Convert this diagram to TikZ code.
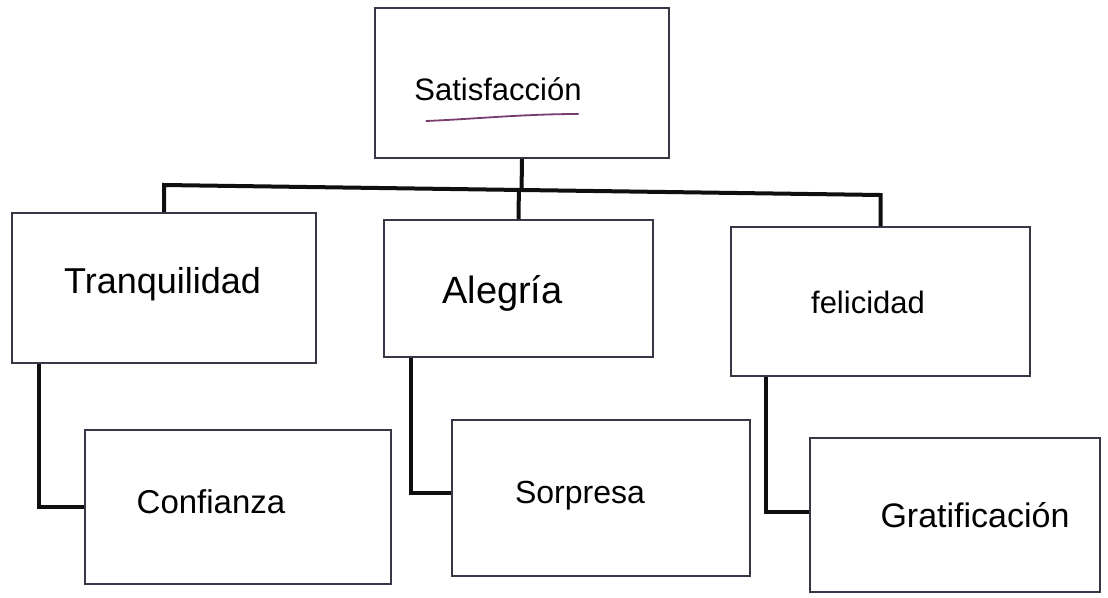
\documentclass[tikz,border=0pt]{standalone}
\usepackage{fontspec}
\setmainfont{Liberation Sans}
\usetikzlibrary{calc}
\definecolor{boxc}{RGB}{55,55,72}
\definecolor{linec}{RGB}{15,15,18}
\definecolor{underc}{RGB}{120,60,110}
\begin{document}
\begin{tikzpicture}[x=1pt,y=-1pt,
  box/.style={draw=boxc, line width=1.6pt, inner sep=0pt, fill=white},
  conn/.style={draw=linec, line width=4pt},
  lbl/.style={anchor=base, inner sep=0pt, text=black},
  underl/.style={draw=underc, line width=1.8pt, line cap=round}]
\fill[white] (0,0) rectangle (1108,597);
\useasboundingbox (0,0) rectangle (1108,597);

% boxes
\node[box, minimum width=294pt, minimum height=150pt] (sat) at (522,83) {};
\node[box, minimum width=304pt, minimum height=150pt] (tra) at (164,288) {};
\node[box, minimum width=269pt, minimum height=137pt] (ale) at (518.5,288.5) {};
\node[box, minimum width=299pt, minimum height=149pt] (fel) at (880.5,301.5) {};
\node[box, minimum width=306pt, minimum height=154pt] (con) at (238,507) {};
\node[box, minimum width=298pt, minimum height=156pt] (sor) at (601,498) {};
\node[box, minimum width=290pt, minimum height=154pt] (gra) at (955,515) {};

% labels
\node[lbl, font=\fontsize{31}{36}\selectfont] (tSat) at (498,100) {Satisfacción};
\node[lbl, font=\fontsize{36}{40}\selectfont] (tTra) at (162.5,293) {Tranquilidad};
\node[lbl, font=\fontsize{38}{42}\selectfont] (tAle) at (502.5,303) {Alegría};
\node[lbl, font=\fontsize{31}{36}\selectfont] (tFel) at (868,313) {felicidad};
\node[lbl, font=\fontsize{33}{38}\selectfont] (tCon) at (211,513) {Confianza};
\node[lbl, font=\fontsize{32}{36}\selectfont] (tSor) at (580,503) {Sorpresa};
\node[lbl, font=\fontsize{34}{38}\selectfont] (tGra) at (975,527) {Gratificación};

% underline of the title
\draw[underl] ([xshift=12pt,yshift=-21pt]tSat.base west) .. controls ([xshift=60pt,yshift=-19pt]tSat.base west) and ([xshift=110pt,yshift=-14pt]tSat.base west) .. ([xshift=164pt,yshift=-14pt]tSat.base west);

% bus
\coordinate (busL) at (164,185);
\coordinate (busR) at (880.5,195);
\draw[conn] (tra.north) -- (busL) -- (busR) -- (fel.north);
\draw[conn] (sat.south) -- ($(busL)!(sat.south)!(busR)$);
\draw[conn] ($(busL)!(ale.north)!(busR)$) -- (ale.north);

% elbows
\draw[conn] ([xshift=28pt]tra.south west) |- (con.west);
\draw[conn] ([xshift=28pt]ale.south west) |- ([yshift=5pt]sor.west);
\draw[conn] ([xshift=36pt]fel.south west) |- ([yshift=3pt]gra.west);
\end{tikzpicture}
\end{document}
